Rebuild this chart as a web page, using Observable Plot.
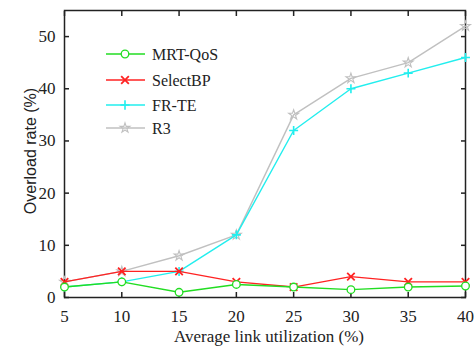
<!DOCTYPE html>
<html><head><meta charset="utf-8">
<script src="https://cdn.jsdelivr.net/npm/d3@7"></script>
<script src="https://cdn.jsdelivr.net/npm/@observablehq/plot@0.6"></script>
<style>
html,body{margin:0;padding:0;background:#fff;}
#chart{position:relative;width:475px;height:351px;}
</style>
</head><body><div id="chart"></div>
<script>
const utilization = [5, 10, 15, 20, 25, 30, 35, 40];
const mrtQos   = [2, 3, 1, 2.5, 2, 1.5, 2, 2.2];
const selectBP = [3, 5, 5, 3, 2, 4, 3, 3];
const frTe     = [2, 3, 5, 12, 32, 40, 43, 46];
const r3       = [3, 5, 8, 12, 35, 42, 45, 52];
const seriesNames = ["MRT-QoS", "SelectBP", "FR-TE", "R3"];
const seriesColors = ["#22dd22", "#ff2222", "#22eeee", "#c0c0c0"];
const seriesSymbols = ["circle", "times", "plus", "star"];
const xTicks = [5, 10, 15, 20, 25, 30, 35, 40];
const yTicks = [0, 10, 20, 30, 40, 50];

const allValues = [mrtQos, selectBP, frTe, r3];
const rows = [];
allValues.forEach((vals, i) => vals.forEach((v, j) => rows.push({x: utilization[j], y: v, s: seriesNames[i]})));

const serif = "Liberation Serif";
const sans = "Liberation Sans";
const dotR = [3.8, 3.5, 3, 3.1];
const dotW = [1.3, 1.8, 1.6, 1.1];

const marks = [];
[3, 2, 1, 0].forEach(i => {
  const d = rows.filter(r => r.s === seriesNames[i]);
  marks.push(Plot.line(d, {x: "x", y: "y", stroke: seriesColors[i], strokeWidth: 1.4}));
  marks.push(Plot.dot(d, {x: "x", y: "y", stroke: seriesColors[i], fill: i === 0 ? "white" : "none", symbol: seriesSymbols[i], r: dotR[i], strokeWidth: dotW[i]}));
});

const plot = Plot.plot({
  width: 475, height: 351,
  marginLeft: 64, marginRight: 10, marginTop: 10, marginBottom: 54,
  style: {background: "transparent", fontFamily: serif, fontSize: "17px", color: "#222"},
  x: {domain: [5, 40], ticks: xTicks},
  y: {domain: [0, 55], ticks: yTicks},
  marks: [
    Plot.frame({stroke: "#222", strokeWidth: 1.5}),
    Plot.axisX(xTicks, {anchor: "bottom", tickSize: 0, tickPadding: 12, label: null, fontSize: 17, fontFamily: serif}),
    Plot.axisX(xTicks, {anchor: "bottom", tickSize: -5, label: null, text: null, strokeWidth: 1.5}),
    Plot.axisX(xTicks, {anchor: "top", tickSize: -5, label: null, text: null, strokeWidth: 1.5}),
    Plot.axisY(yTicks, {anchor: "left", tickSize: 0, tickPadding: 9, label: null, fontSize: 17, fontFamily: serif}),
    Plot.axisY(yTicks, {anchor: "left", tickSize: -5, label: null, text: null, strokeWidth: 1.5}),
    Plot.axisY(yTicks, {anchor: "right", tickSize: -5, label: null, text: null, strokeWidth: 1.5}),
    ...marks
  ]
});
document.getElementById("chart").appendChild(plot);

const svg = d3.select(plot);
svg.selectAll("text").attr("font-family", serif).style("font-family", serif);
svg.append("text").attr("x", 269).attr("y", 342).attr("text-anchor", "middle")
  .attr("style", "font-family:'Liberation Serif';font-size:17px").attr("fill", "#222")
  .text("Average link utilization (%)");
svg.append("text").attr("transform", "translate(36,151) rotate(-90)").attr("text-anchor", "middle")
  .attr("style", "font-family:'Liberation Sans';font-size:16px").attr("fill", "#222")
  .text("Overload rate (%)");

const symMap = {circle: d3.symbolCircle, times: d3.symbolTimes, plus: d3.symbolPlus, star: d3.symbolStar};
const legendY = [54, 80, 105, 128];
const legSize = [45, 40, 30, 30];
const lg = svg.append("g");
seriesNames.forEach((name, i) => {
  const y = legendY[i];
  lg.append("line").attr("x1", 106).attr("x2", 145).attr("y1", y).attr("y2", y)
    .attr("stroke", seriesColors[i]).attr("stroke-width", 1.5);
  lg.append("path").attr("d", d3.symbol(symMap[seriesSymbols[i]], legSize[i])())
    .attr("transform", `translate(125,${y})`).attr("stroke", seriesColors[i])
    .attr("fill", i === 0 ? "white" : "none").attr("stroke-width", dotW[i]);
  lg.append("text").attr("x", 152).attr("y", y).attr("dy", "0.35em").attr("text-anchor", "start")
    .attr("style", "font-family:'Liberation Serif';font-size:16px").attr("fill", "#222").text(name);
});
</script></body></html>
